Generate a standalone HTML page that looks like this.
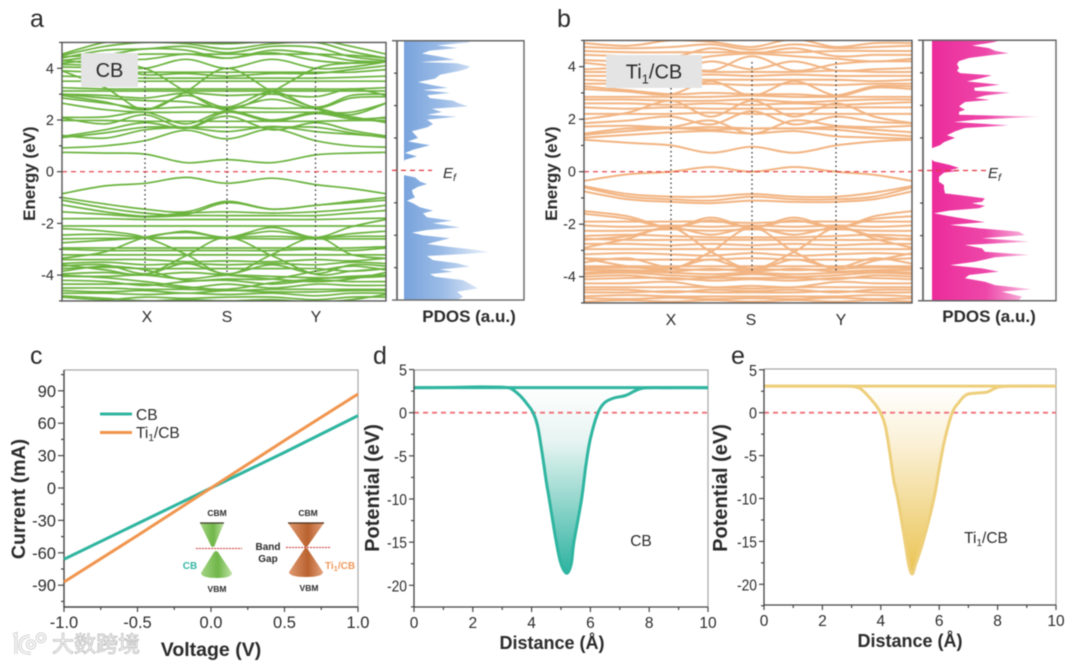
<!DOCTYPE html>
<html lang="en">
<head>
<meta charset="utf-8">
<title>Band structure, PDOS, I-V and potential charts</title>
<style>
html,body{margin:0;padding:0;background:#fff;width:1080px;height:662px;overflow:hidden}
svg{display:block;filter:blur(.45px)}
text{font-family:"Liberation Sans","Noto Sans CJK SC",sans-serif;fill:#2b2b2b}
</style>
</head>
<body>
<svg id="fig" xmlns="http://www.w3.org/2000/svg" width="1080" height="662" viewBox="0 0 1080 662">
<defs>
<linearGradient id="gradA" gradientUnits="userSpaceOnUse" x1="404" y1="0" x2="490" y2="0"><stop offset="0" stop-color="#78a3dc"/><stop offset=".45" stop-color="#9cbce7"/><stop offset="1" stop-color="#eef3fb"/></linearGradient>
<linearGradient id="gradB" gradientUnits="userSpaceOnUse" x1="932" y1="0" x2="1040" y2="0"><stop offset="0" stop-color="#ec2b9b"/><stop offset=".5" stop-color="#ee47a9"/><stop offset="1" stop-color="#fbdcee"/></linearGradient>
<linearGradient id="gradD" gradientUnits="userSpaceOnUse" x1="0" y1="387" x2="0" y2="572"><stop offset="0" stop-color="#ffffff"/><stop offset=".3" stop-color="#e6f4f1"/><stop offset="1" stop-color="#2fb3a1"/></linearGradient>
<linearGradient id="gradE" gradientUnits="userSpaceOnUse" x1="0" y1="386" x2="0" y2="572"><stop offset="0" stop-color="#ffffff"/><stop offset=".3" stop-color="#fbf1d8"/><stop offset="1" stop-color="#eac453"/></linearGradient>
<linearGradient id="coneG" x1="0" y1="0" x2="1" y2="0"><stop offset="0" stop-color="#a5d584"/><stop offset=".55" stop-color="#6fb648"/><stop offset="1" stop-color="#bfe3a4"/></linearGradient>
<linearGradient id="coneO" x1="0" y1="0" x2="1" y2="0"><stop offset="0" stop-color="#e09a70"/><stop offset=".55" stop-color="#b9622f"/><stop offset="1" stop-color="#e5a27c"/></linearGradient>
</defs>
<g id="panel-a"></g>
<g id="panel-b"></g>
<g id="panel-c"></g>
<g id="panel-d"></g>
<g id="panel-e"></g>
<g id="inset">
  <path d="M200 523 L224 523 L214.5 546 Q213 548 211 546 Z" fill="url(#coneG)"/>
  <path d="M200 523 H224" stroke="#3d3d2d" stroke-width="1.2"/>
  <path d="M214 552 Q216 550 218 552 L232 573 Q232 578 217 578 Q201 578 201 573 Z" fill="url(#coneG)"/>
  <path d="M288 523 L324 523 L307 547 L305 547 Z" fill="url(#coneO)"/>
  <path d="M288 523 H324" stroke="#4a2d1a" stroke-width="1.2"/>
  <path d="M305 548 L307 548 L323 572 Q323 577 306 577 Q289 577 289 572 Z" fill="url(#coneO)"/>
  <path d="M196 548.5 H242" stroke="#c9302c" stroke-width="1" stroke-dasharray="2 1"/>
  <path d="M286 547.5 H331" stroke="#c9302c" stroke-width="1" stroke-dasharray="2 1"/>
  <text x="217" y="516" font-size="8.5" font-weight="700" text-anchor="middle">CBM</text>
  <text x="217" y="592" font-size="8.5" font-weight="700" text-anchor="middle">VBM</text>
  <text x="190" y="569" font-size="10" font-weight="700" text-anchor="middle" style="fill:#35b6a4">CB</text>
  <text x="268" y="550" font-size="10" font-weight="700" text-anchor="middle">Band</text>
  <text x="268" y="562" font-size="10" font-weight="700" text-anchor="middle">Gap</text>
  <text x="308" y="516" font-size="8.5" font-weight="700" text-anchor="middle">CBM</text>
  <text x="309" y="591" font-size="8.5" font-weight="700" text-anchor="middle">VBM</text>
  <text x="340" y="569" font-size="10" font-weight="700" text-anchor="middle" style="fill:#ee9a5c">Ti<tspan font-size="7.5" dy="2">1</tspan><tspan dy="-2">/CB</tspan></text>
</g>
<g id="watermark">
  <path d="M13 635 L16 634 V654 M30 636 Q20 637 20 645 Q20 654 31 653 M31 641 a3.5 3.5 0 1 0 .1 0 M41 634 a3.8 3.8 0 1 0 .1 0" fill="none" stroke="#c9c9c9" stroke-width="3.2"/>
  <path d="M13 635 L16 634 V654 M30 636 Q20 637 20 645 Q20 654 31 653 M31 641 a3.5 3.5 0 1 0 .1 0 M41 634 a3.8 3.8 0 1 0 .1 0" fill="none" stroke="#ffffff" stroke-width="1.4"/>
  <text x="52" y="652" font-size="22" font-weight="400" style="fill:#ffffff;stroke:#bdbdbd;stroke-width:.8;font-family:'Liberation Sans','Noto Sans CJK SC',sans-serif">大数跨境</text>
</g>
</svg>
<script>
// ---- Chart data ----
const kNodesA = [62, 105, 145, 186, 227, 272, 315.5, 351, 386];
const kNodesB = [584, 628, 671, 711, 752, 794, 836, 874, 912];

const bandsCB = [
 [0.75,0.72,0.68,0.35,0.47,0.35,0.65,0.72,0.75],
 [0.92,1.0,1.2,1.6,1.27,1.65,1.2,1.0,0.95],
 [1.32,1.5,1.72,1.72,1.72,1.72,1.72,1.5,1.32],
 [1.36,1.62,1.9,1.68,2.15,1.62,1.9,1.6,1.38],
 [1.4,1.3,1.62,1.7,1.55,1.75,1.55,1.45,1.35],
 [1.98,1.98,1.95,1.95,1.95,1.95,1.95,1.98,1.98],
 [2.08,1.85,2.2,1.7,2.3,1.95,2.25,2.05,2.08],
 [2.1,2.12,2.3,1.85,2.35,2.0,2.3,2.12,1.9],
 [2.65,2.4,2.3,2.3,2.3,2.3,2.3,2.3,2.65],
 [2.85,2.65,2.45,2.5,2.5,2.45,2.45,2.2,2.65],
 [2.95,2.7,2.4,2.95,2.5,3.1,2.5,2.95,3.0],
 [3.0,2.85,2.75,2.7,2.45,2.8,2.45,2.85,2.9],
 [3.0,2.95,2.85,3.05,2.95,3.0,2.9,3.2,2.95],
 [3.12,3.12,3.12,3.12,3.12,3.12,3.12,3.12,3.12],
 [3.25,3.2,3.2,3.2,3.2,3.2,3.2,3.2,3.25],
 [3.9,3.25,2.4,3.1,4.0,3.1,2.45,2.05,2.1],
 [4.3,4.15,4.0,3.1,2.4,3.1,4.0,4.2,4.25],
 [3.5,3.5,3.5,3.5,3.5,3.5,3.5,3.5,3.5],
 [3.7,3.65,3.62,3.62,3.62,3.62,3.62,3.65,3.7],
 [3.9,3.85,3.85,3.85,3.85,3.85,3.85,3.85,3.95],
 [4.15,4.1,4.0,4.35,4.0,4.35,4.0,4.05,4.25],
 [4.05,4.0,3.75,3.8,3.7,3.8,3.8,3.95,4.1],
 [4.2,4.35,4.35,4.55,4.39,4.6,4.3,4.2,4.25],
 [4.3,4.5,4.75,4.7,4.39,4.7,4.55,4.3,4.25],
 [4.4,4.7,4.75,4.85,4.6,4.85,4.8,4.45,4.3],
 [4.45,4.5,4.55,4.55,4.55,4.55,4.55,4.5,4.4],
 [4.5,4.85,5.0,4.95,4.75,4.95,5.0,4.65,4.4],
 [4.55,5.0,5.1,5.0,4.95,5.05,5.1,4.85,4.55],
 [-0.85,-0.55,-0.45,-0.22,-0.45,-0.25,-0.5,-0.65,-0.85],
 [-1.0,-1.25,-1.45,-1.55,-1.15,-1.45,-1.3,-1.15,-1.0],
 [-1.1,-1.4,-1.6,-1.65,-1.2,-1.45,-1.3,-1.2,-1.1],
 [-1.28,-1.55,-1.72,-1.6,-1.55,-1.6,-1.55,-1.45,-1.3],
 [-1.55,-1.65,-1.75,-1.7,-1.7,-1.7,-1.7,-1.6,-1.5],
 [-1.82,-1.82,-1.85,-1.85,-1.85,-1.85,-1.85,-1.82,-1.8],
 [-2.1,-2.1,-2.1,-2.1,-2.1,-2.1,-2.1,-2.1,-2.1],
 [-2.75,-2.65,-2.54,-2.3,-2.54,-2.16,-2.54,-2.13,-1.85],
 [-3.35,-3.1,-2.54,-2.35,-2.54,-2.3,-2.54,-2.4,-2.3],
 [-2.2,-2.3,-2.54,-3.2,-3.97,-3.2,-2.54,-3.2,-3.35],
 [-3.6,-3.8,-3.97,-3.25,-2.54,-3.25,-3.97,-3.85,-3.75],
 [-2.45,-2.42,-2.54,-2.55,-2.54,-2.5,-2.54,-2.5,-2.5],
 [-2.6,-2.58,-2.58,-2.58,-2.58,-2.6,-2.6,-2.6,-2.6],
 [-2.95,-2.95,-2.95,-2.95,-2.95,-2.95,-2.95,-2.95,-2.9],
 [-3.0,-3.05,-3.05,-3.05,-3.05,-3.05,-3.0,-3.05,-2.95],
 [-3.22,-3.22,-3.22,-3.22,-3.22,-3.22,-3.22,-3.22,-3.22],
 [-3.4,-3.4,-3.4,-3.48,-3.45,-3.48,-3.4,-3.45,-3.35],
 [-3.55,-3.5,-3.6,-3.55,-3.6,-3.55,-3.6,-3.5,-3.55],
 [-3.65,-3.6,-3.95,-3.55,-3.95,-3.6,-3.95,-3.6,-3.65],
 [-3.85,-3.65,-3.8,-4.2,-4.15,-4.15,-3.85,-3.65,-3.8],
 [-3.75,-3.7,-3.75,-3.75,-3.75,-3.75,-3.75,-3.85,-3.75],
 [-3.95,-3.9,-4.0,-3.9,-4.0,-4.15,-4.25,-4.15,-3.9],
 [-4.05,-4.05,-4.0,-4.15,-4.0,-4.05,-4.1,-4.1,-4.05],
 [-4.0,-4.1,-4.25,-4.45,-4.55,-4.3,-4.15,-4.05,-4.0],
 [-4.2,-4.25,-4.4,-4.25,-4.2,-4.35,-4.2,-4.25,-4.25],
 [-4.35,-4.35,-4.35,-4.5,-4.35,-4.5,-4.35,-4.4,-4.4],
 [-4.5,-4.5,-4.55,-4.55,-4.6,-4.55,-4.55,-4.55,-4.55],
 [-4.6,-4.65,-4.6,-4.7,-4.6,-4.65,-4.65,-4.6,-4.6],
 [-4.7,-4.7,-4.75,-4.7,-4.75,-4.7,-4.8,-4.7,-4.7],
 [-4.85,-4.95,-4.85,-4.9,-4.85,-4.85,-4.95,-4.85,-4.85],
 [-4.8,-4.9,-5.0,-4.95,-5.0,-4.95,-5.05,-4.95,-4.75]
];

const bandsTi = [
 [1.22,1.1,1.0,0.72,0.95,0.72,1.0,1.15,1.22],
 [1.3,1.4,1.5,1.55,1.45,1.55,1.35,1.3,1.25],
 [1.4,1.55,1.65,1.6,1.65,1.65,1.6,1.45,1.35],
 [1.45,1.65,1.65,1.7,1.65,1.65,1.7,1.6,1.5],
 [1.72,1.75,1.7,1.95,1.45,1.95,1.75,1.7,1.75],
 [1.85,1.95,2.1,1.8,2.3,1.8,2.1,1.9,1.85],
 [2.0,2.25,2.7,2.1,2.7,2.1,2.6,2.1,1.85],
 [2.2,2.2,2.2,2.25,2.2,2.2,2.2,2.2,2.2],
 [2.45,2.4,2.45,2.4,2.4,2.4,2.45,2.45,2.45],
 [2.6,2.6,2.55,2.6,2.55,2.6,2.55,2.6,2.65],
 [2.75,2.75,2.7,2.7,2.75,2.65,2.7,2.75,2.75],
 [2.85,2.85,2.85,2.85,2.9,2.85,2.85,2.85,2.85],
 [3.15,3.05,2.95,3.45,2.9,3.45,2.9,3.2,3.15],
 [3.25,3.1,2.95,3.0,2.95,2.95,2.9,3.25,3.25],
 [3.35,3.35,3.3,3.35,3.3,3.35,3.3,3.35,3.35],
 [3.5,3.45,3.5,3.5,3.5,3.5,3.5,3.45,3.5],
 [3.65,3.65,3.65,3.7,3.65,3.7,3.65,3.65,3.65],
 [3.8,3.8,3.85,3.8,3.8,3.8,3.85,3.8,3.8],
 [3.9,3.95,3.85,4.2,3.9,4.2,3.85,3.9,3.95],
 [4.15,4.0,4.1,3.85,4.4,3.85,4.1,4.2,4.2],
 [4.25,4.2,4.15,4.4,4.5,4.4,4.3,4.2,4.3],
 [4.45,4.4,4.35,4.7,4.5,4.7,4.4,4.45,4.45],
 [4.6,4.55,4.55,4.55,4.55,4.55,4.6,4.6,4.6],
 [4.75,4.7,4.75,4.85,4.65,4.85,4.7,4.75,4.8],
 [4.9,4.8,5.0,4.95,4.75,5.05,4.75,4.9,4.9],
 [-0.35,-0.1,0.0,0.18,0.0,0.18,0.0,-0.12,-0.35],
 [-0.55,-0.85,-0.95,-0.95,-0.85,-0.95,-0.95,-0.8,-0.55],
 [-0.6,-0.95,-1.05,-1.1,-0.95,-1.05,-1.05,-0.95,-0.6],
 [-0.75,-1.05,-1.15,-1.2,-1.1,-1.15,-1.15,-1.05,-0.75],
 [-1.5,-1.7,-2.13,-1.75,-2.13,-1.75,-2.13,-1.7,-1.5],
 [-1.6,-1.8,-2.13,-1.85,-2.13,-1.85,-2.13,-1.8,-1.7],
 [-1.9,-1.9,-1.9,-1.9,-1.95,-1.9,-1.9,-1.9,-1.9],
 [-2.05,-2.1,-2.05,-2.1,-2.05,-2.1,-2.05,-2.1,-2.05],
 [-2.25,-2.25,-2.2,-2.25,-2.2,-2.25,-2.2,-2.25,-2.25],
 [-2.6,-2.45,-2.13,-2.4,-2.13,-2.4,-2.13,-2.45,-2.6],
 [-2.9,-2.55,-2.13,-3.05,-3.7,-3.05,-2.13,-2.55,-2.9],
 [-3.3,-3.6,-3.7,-3.05,-2.13,-3.05,-3.7,-3.4,-3.1],
 [-2.45,-2.4,-2.45,-2.5,-2.5,-2.5,-2.45,-2.4,-2.45],
 [-2.55,-2.6,-2.6,-2.6,-2.6,-2.6,-2.6,-2.6,-2.55],
 [-2.75,-2.75,-2.8,-2.75,-2.8,-2.75,-2.8,-2.75,-2.75],
 [-2.95,-2.95,-2.95,-2.95,-2.95,-2.95,-2.95,-2.95,-2.95],
 [-3.15,-3.1,-3.15,-3.2,-3.1,-3.2,-3.15,-3.1,-3.15],
 [-3.3,-3.35,-3.35,-3.35,-3.3,-3.35,-3.35,-3.35,-3.3],
 [-3.45,-3.3,-3.65,-3.35,-3.75,-3.35,-3.65,-3.3,-3.5],
 [-3.6,-3.6,-3.6,-3.6,-3.6,-3.6,-3.6,-3.6,-3.6],
 [-3.68,-3.65,-3.7,-3.75,-3.7,-3.75,-3.7,-3.65,-3.68],
 [-3.75,-3.75,-3.8,-3.7,-3.8,-3.7,-3.8,-3.75,-3.75],
 [-3.85,-3.8,-3.85,-3.9,-3.85,-3.9,-3.85,-3.8,-3.85],
 [-3.9,-3.85,-3.95,-4.0,-3.9,-4.0,-3.95,-3.85,-3.9],
 [-4.0,-3.95,-4.1,-4.05,-4.05,-4.05,-4.1,-3.95,-4.0],
 [-4.1,-4.05,-4.05,-4.15,-4.1,-4.15,-4.05,-4.05,-4.1],
 [-4.25,-4.25,-4.2,-4.4,-4.35,-4.4,-4.2,-4.25,-4.25],
 [-4.4,-4.4,-4.4,-4.4,-4.45,-4.4,-4.4,-4.4,-4.4],
 [-4.5,-4.5,-4.6,-4.5,-4.55,-4.5,-4.6,-4.5,-4.5],
 [-4.6,-4.6,-4.55,-4.6,-4.6,-4.6,-4.55,-4.6,-4.6],
 [-4.75,-4.7,-4.75,-4.75,-4.75,-4.75,-4.75,-4.7,-4.75],
 [-4.82,-4.85,-4.8,-4.85,-4.82,-4.85,-4.8,-4.85,-4.82],
 [-4.95,-4.9,-4.95,-4.9,-4.95,-4.9,-4.95,-4.9,-4.95]
];

const energyTicks = [4,2,0,-2,-4];
const energyTickLabels = ["4","2","0","-2","-4"];
const energyMinorTicks = [5,3,1,-1,-3,-5];
const pdosTicks = [3.75,2.5,1.25,0,-1.25,-2.5,-3.75];
const pathLabels = ["X","S","Y"];

const pdosEnergyA = [5,4.93,4.82,4.72,4.62,4.51,4.39,4.27,4.18,4.13,4.01,3.92,3.82,3.69,3.54,3.41,3.28,3.18,3.1,2.99,2.9,2.79,2.69,2.6,2.47,2.38,2.25,2.15,2.07,1.96,1.79,1.66,1.51,1.25,1.12,.97,.8,.67,.54,.41,.35,-.18,-.27,-.43,-.53,-.63,-.76,-.91,-1.04,-1.17,-1.27,-1.42,-1.55,-1.66,-1.81,-1.94,-2.04,-2.2,-2.3,-2.4,-2.5,-2.62,-2.84,-2.94,-3.07,-3.15,-3.22,-3.3,-3.46,-3.58,-3.71,-3.82,-3.91,-4.0,-4.1,-4.23,-4.42,-4.55,-4.68,-4.87,-5.0];
const pdosValueA = [69,64,33,54,26,18,36,51,16,53,66,63,54,36,31,14,29,44,19,46,23,26,49,54,64,28,38,23,53,23,29,23,8,14,4,26,9,1,13,1,0,0,11,16,23,14,8,9,11,3,9,16,29,19,23,48,29,56,23,8,19,46,23,43,73,86,63,23,29,53,66,36,49,26,31,59,68,74,53,59,53];
const pdosEnergyB = [4.98,4.91,4.8,4.7,4.6,4.5,4.42,4.32,4.2,4.09,3.93,3.83,3.74,3.65,3.55,3.42,3.29,3.17,3.06,2.99,2.88,2.78,2.71,2.63,2.46,2.33,2.25,2.14,2.07,1.95,1.86,1.73,1.63,1.5,1.35,1.25,1.09,.97,.86,.74,.42,.35,.22,.1,.01,-.02,-.08,-.24,-.43,-.56,-.69,-.88,-.94,-1.07,-1.2,-1.26,-1.36,-1.45,-1.54,-1.64,-1.75,-1.9,-1.98,-2.09,-2.22,-2.35,-2.48,-2.6,-2.73,-2.86,-2.99,-3.12,-3.24,-3.33,-3.5,-3.63,-3.76,-3.88,-4.01,-4.14,-4.27,-4.4,-4.56,-4.65,-4.78,-4.84,-4.97];
const pdosValueB = [67,60,40,57,63,77,57,37,27,25,27,25,28,60,50,35,68,42,43,78,53,43,58,33,27,33,27,27,108,43,22,77,33,23,15,23,12,8,0,0,0,2,17,27,18,27,12,7,7,12,12,13,27,53,50,40,53,47,17,2,17,40,53,18,47,87,93,50,98,33,50,53,98,63,43,18,50,67,37,33,53,63,100,70,83,90,87];

const voltage = [-1,-0.5,0,0.5,1];
const currentCB = [-66,-33,0,33,67];
const currentTi = [-87,-44,0,44,87];
const voltageTicks = [-1,-0.5,0,0.5,1];
const voltageTickLabels = ["-1.0","-0.5","0.0","0.5","1.0"];
const voltageMinor = [-0.75,-0.25,0.25,0.75];
const currentTicks = [90,60,30,0,-30,-60,-90];
const currentMinor = [105,75,45,15,-15,-45,-75,-105];

const distanceD = [0,1,2,2.6,3.05,3.3,3.6,3.85,4.05,4.2,4.35,4.5,4.6,4.84,5.0,5.2,5.35,5.44,5.7,5.85,6.0,6.26,6.5,6.8,7.2,7.5,7.8,8.5,10];
const potentialD = [2.9,2.92,2.98,2.98,2.95,2.8,2.0,1.0,0,-1.5,-4.5,-8,-10,-15,-17.5,-18.6,-17.5,-15,-10,-6,-3,0,1.2,1.7,2.0,2.5,2.85,2.9,2.9];
const distanceE = [0,1,2,2.6,3.05,3.3,3.55,3.8,3.99,4.15,4.3,4.45,4.58,4.83,4.95,5.07,5.2,5.45,5.82,6.0,6.2,6.45,6.65,6.93,7.3,7.64,8.03,8.6,10];
const potentialE = [3.1,3.1,3.1,3.1,3.05,2.8,2.0,1.0,0,-1.5,-4.5,-8,-10,-15,-17.6,-18.8,-17.6,-15,-10,-6.5,-3,0,1.1,2.1,2.3,2.4,3.0,3.1,3.1];
const distanceTicks = [0,2,4,6,8,10];
const distanceMinor = [1,3,5,7,9];
const potentialTicks = [5,0,-5,-10,-15,-20];
const potentialMinor = [2.5,-2.5,-7.5,-12.5,-17.5,-22.5];

// ---- Helpers ----
const NS = 'http://www.w3.org/2000/svg';
function mk(parent, tag, attrs, name, txt) {
  const el = document.createElementNS(NS, tag);
  for (const k in attrs) el.setAttribute(k, attrs[k]);
  
  
  if (txt !== undefined) el.textContent = txt;
  parent.appendChild(el);
  return el;
}
function curve(pts) {
  let d = 'M' + pts[0][0].toFixed(1) + ' ' + pts[0][1].toFixed(1);
  for (let i = 0; i < pts.length - 1; i++) {
    const p0 = pts[Math.max(0, i - 1)], p1 = pts[i], p2 = pts[i + 1], p3 = pts[Math.min(pts.length - 1, i + 2)];
    const c1x = p1[0] + (p2[0] - p0[0]) / 6, c1y = p1[1] + (p2[1] - p0[1]) / 6;
    const c2x = p2[0] - (p3[0] - p1[0]) / 6, c2y = p2[1] - (p3[1] - p1[1]) / 6;
    d += 'C' + c1x.toFixed(1) + ' ' + c1y.toFixed(1) + ' ' + c2x.toFixed(1) + ' ' + c2y.toFixed(1) + ' ' + p2[0].toFixed(1) + ' ' + p2[1].toFixed(1);
  }
  return d;
}
function vTick(g, x, y, len, name) {
  mk(g, 'line', {x1: x, x2: x, y1: y, y2: y + len, stroke: '#444', 'stroke-width': 1.2}, name);
}
function hTick(g, x, y, len, name) {
  mk(g, 'line', {x1: x - len, x2: x, y1: y, y2: y, stroke: '#444', 'stroke-width': 1.2}, name);
}

// ---- Band structure panels ----
function bandPanel(cfg) {
  const g = document.getElementById(cfg.id);
  const yE = e => cfg.y0 - e * cfg.ppe;
  const clip = 'clip-' + cfg.id;
  const cp = mk(document.querySelector('#fig defs'), 'clipPath', {id: clip}, cfg.id + '-clip');
  mk(cp, 'rect', {x: cfg.x0, y: yE(5), width: cfg.x1 - cfg.x0, height: yE(-5) - yE(5)}, cfg.id + '-clip-rect');
  const bg = mk(g, 'g', {'clip-path': 'url(#' + clip + ')'}, 'band-lines');
  cfg.bands.forEach(b => {
    const pts = b.map((e, i) => [cfg.kx[i], yE(e)]);
    mk(bg, 'path', {d: curve(pts), fill: 'none', stroke: cfg.color, 'stroke-width': cfg.lw}, 'band-line');
  });
  cfg.sym.forEach((s, i) => {
    mk(g, 'line', {x1: s.x, x2: s.x, y1: s.top, y2: s.bot, stroke: '#333', 'stroke-width': 1.3, 'stroke-dasharray': '1.5 3'}, 'symmetry-line-' + pathLabels[i].toLowerCase());
    mk(g, 'text', {x: s.lx, y: cfg.labY, 'font-size': 16, 'text-anchor': 'middle'}, 'k-point-label-' + pathLabels[i].toLowerCase(), pathLabels[i]);
  });
  mk(g, 'line', {x1: cfg.x0, x2: cfg.x1, y1: yE(0), y2: yE(0), stroke: '#e2363f', 'stroke-width': 1.2, 'stroke-dasharray': '5 4'}, 'fermi-level-line');
  mk(g, 'rect', {x: cfg.x0, y: yE(5), width: cfg.x1 - cfg.x0, height: yE(-5) - yE(5), fill: 'none', stroke: '#555', 'stroke-width': 1.4}, 'plot-frame');
  energyTicks.forEach((e, i) => {
    hTick(g, cfg.x0, yE(e), 5, 'energy-tick');
    mk(g, 'text', {x: cfg.x0 - 8, y: yE(e) + 5, 'font-size': 14.5, 'text-anchor': 'end'}, 'energy-tick-label', energyTickLabels[i]);
  });
  energyMinorTicks.forEach(e => hTick(g, cfg.x0, yE(e), 3, 'energy-minor-tick'));
  mk(g, 'text', {transform: 'translate(' + cfg.ylX + ' ' + (yE(0) + 2) + ') rotate(-90)', 'font-size': 17, 'font-weight': 700, 'text-anchor': 'middle'}, 'y-axis-title', 'Energy (eV)');
  mk(g, 'text', {x: cfg.letter[0], y: cfg.letter[1], 'font-size': 25}, 'panel-letter', cfg.letterText);
  mk(g, 'rect', {x: cfg.tag[0], y: cfg.tag[1], width: cfg.tag[2], height: cfg.tag[3], fill: '#e4e4e4'}, 'sample-label-box');
  const t = mk(g, 'text', {x: cfg.tag[0] + cfg.tag[2] / 2, y: cfg.tag[1] + cfg.tag[3] / 2 + 7, 'font-size': 20, 'text-anchor': 'middle'}, 'sample-label');
  if (cfg.ti) {
    t.appendChild(document.createTextNode('Ti'));
    const s = mk(t, 'tspan', {'font-size': 13, dy: 5}, 'sample-label-subscript', '1');
    const r = mk(t, 'tspan', {dy: -5}, 'sample-label-suffix', '/CB');
  } else t.textContent = 'CB';

  // PDOS
  const yP = e => cfg.pY0 - e * cfg.pPpe;
  const fx = v => cfg.pFill + v;
  const pts = cfg.pE.map((e, i) => fx(cfg.pV[i]).toFixed(1) + ',' + yP(e).toFixed(1));
  const poly = cfg.pFill + ',' + yP(cfg.pE[0]).toFixed(1) + ' ' + pts.join(' ') + ' ' + cfg.pFill + ',' + yP(cfg.pE[cfg.pE.length - 1]).toFixed(1);
  mk(g, 'polygon', {points: poly, fill: cfg.pGrad}, 'pdos-area');
  mk(g, 'line', {x1: cfg.pAxis, x2: cfg.pAxis, y1: yP(5), y2: yP(-5), stroke: '#666', 'stroke-width': 1.8}, 'pdos-left-axis');
  mk(g, 'path', {d: 'M' + cfg.pL + ' ' + yP(5) + 'H' + cfg.pR + 'V' + yP(-5) + 'H' + cfg.pL, fill: 'none', stroke: '#666', 'stroke-width': 1.4}, 'pdos-frame');
  pdosTicks.forEach(e => hTick(g, cfg.pAxis, yP(e), 3, 'pdos-tick'));
  mk(g, 'line', {x1: cfg.pL, x2: cfg.pDashEnd, y1: yP(0), y2: yP(0), stroke: '#e2363f', 'stroke-width': 1.2, 'stroke-dasharray': '5 4'}, 'pdos-fermi-line');
  const ef = mk(g, 'text', {x: cfg.efX, y: 178, 'font-size': 15, 'font-style': 'italic'}, 'fermi-level-label');
  ef.appendChild(document.createTextNode('E'));
  mk(ef, 'tspan', {'font-size': 10.5, dy: 3}, 'fermi-level-subscript', 'f');
  mk(g, 'text', {x: cfg.pdosLabX, y: 322, 'font-size': 17, 'font-weight': 700, 'text-anchor': 'middle'}, 'pdos-axis-title', 'PDOS (a.u.)');
}

bandPanel({id:'panel-a', bands:bandsCB, kx:kNodesA, x0:62, x1:386, y0:171.7, ppe:25.85, color:'#6bb33e', lw:1.7, ylX:35,
  sym:[{x:145,lx:147,top:68,bot:275},{x:227,lx:227,top:68,bot:275},{x:315.5,lx:316,top:68,bot:275}], labY:322,
  letter:[30,27], letterText:'a', tag:[81,53,57,34], ti:false,
  pE:pdosEnergyA, pV:pdosValueA, pFill:404, pY0:170.4, pPpe:25.93, pGrad:'url(#gradA)', pAxis:397, pL:392, pR:524, pDashEnd:432, efX:443, pdosLabX:469});
bandPanel({id:'panel-b', bands:bandsTi, kx:kNodesB, x0:584, x1:912, y0:171.7, ppe:26.25, color:'#f2b482', lw:2, ylX:557,
  sym:[{x:671,lx:671,top:88,bot:273},{x:752,lx:751,top:62,bot:271},{x:836,lx:841,top:62,bot:272}], labY:325,
  letter:[557,27], letterText:'b', tag:[606,55,96,33], ti:true,
  pE:pdosEnergyB, pV:pdosValueB, pFill:932, pY0:170.5, pPpe:26.05, pGrad:'url(#gradB)', pAxis:923, pL:918, pR:1056, pDashEnd:986, efX:988, pdosLabX:989});

// ---- I-V panel ----
(function () {
  const g = document.getElementById('panel-c');
  const x = v => 211 + v * 147;
  const y = i => 488 - i * 1.08;
  mk(g, 'path', {d: 'M64 370H358V607', fill: 'none', stroke: '#a8a8a8', 'stroke-width': 1.2}, 'plot-top-right-frame');
  mk(g, 'path', {d: 'M64 370V607H358', fill: 'none', stroke: '#444', 'stroke-width': 1.4}, 'plot-axes');
  currentTicks.forEach(c => {
    hTick(g, 64, y(c), 6, 'current-tick');
    mk(g, 'text', {x: 56, y: y(c) + 6, 'font-size': 16.5, 'text-anchor': 'end'}, 'current-tick-label', String(c));
  });
  currentMinor.forEach(c => hTick(g, 64, y(c), 3, 'current-minor-tick'));
  voltageTicks.forEach((v, i) => {
    vTick(g, x(v), 607, 5, 'voltage-tick');
    mk(g, 'text', {x: x(v), y: 628, 'font-size': 16.5, 'text-anchor': 'middle'}, 'voltage-tick-label', voltageTickLabels[i]);
  });
  voltageMinor.forEach(v => vTick(g, x(v), 607, 3, 'voltage-minor-tick'));
  mk(g, 'polyline', {points: voltage.map((v, i) => x(v) + ',' + y(currentCB[i])).join(' '), fill: 'none', stroke: '#2fb5a0', 'stroke-width': 3}, 'series-cb');
  mk(g, 'polyline', {points: voltage.map((v, i) => x(v) + ',' + y(currentTi[i])).join(' '), fill: 'none', stroke: '#f0954e', 'stroke-width': 3}, 'series-ti1-cb');
  mk(g, 'line', {x1: 100, x2: 132, y1: 414, y2: 414, stroke: '#2fb5a0', 'stroke-width': 3}, 'legend-swatch-cb');
  mk(g, 'text', {x: 136, y: 420, 'font-size': 15.5}, 'legend-label-cb', 'CB');
  mk(g, 'line', {x1: 100, x2: 132, y1: 432.5, y2: 432.5, stroke: '#f0954e', 'stroke-width': 3}, 'legend-swatch-ti1-cb');
  const lt = mk(g, 'text', {x: 136, y: 438, 'font-size': 15.5}, 'legend-label-ti1-cb');
  lt.appendChild(document.createTextNode('Ti'));
  mk(lt, 'tspan', {'font-size': 10, dy: 3}, 'legend-subscript', '1');
  mk(lt, 'tspan', {dy: -3}, 'legend-suffix', '/CB');
  mk(g, 'text', {transform: 'translate(25 499) rotate(-90)', 'font-size': 19.5, 'font-weight': 700, 'text-anchor': 'middle'}, 'y-axis-title', 'Current (mA)');
  mk(g, 'text', {x: 211, y: 656, 'font-size': 19.5, 'font-weight': 700, 'text-anchor': 'middle'}, 'x-axis-title', 'Voltage (V)');
  mk(g, 'text', {x: 30, y: 364, 'font-size': 25}, 'panel-letter', 'c');
})();

// ---- Potential panels ----
function potentialPanel(cfg) {
  const g = document.getElementById(cfg.id);
  const x = d => cfg.x0 + d * (cfg.x1 - cfg.x0) / 10;
  const y = p => cfg.yZero - p * cfg.ppe;
  const pts = cfg.dist.map((d, i) => [x(d), y(cfg.pot[i])]);
  mk(g, 'path', {d: curve(pts) + 'Z', fill: cfg.grad}, 'well-fill');
  mk(g, 'path', {d: 'M' + cfg.x0 + ' ' + cfg.top + 'H' + cfg.x1 + 'V' + cfg.bot, fill: 'none', stroke: '#a8a8a8', 'stroke-width': 1.2}, 'plot-top-right-frame');
  mk(g, 'line', {x1: cfg.x0, x2: cfg.x1, y1: y(0), y2: y(0), stroke: '#ef6f7a', 'stroke-width': 1.8, 'stroke-dasharray': '5 4'}, 'fermi-level-line');
  mk(g, 'line', {x1: cfg.x0, x2: cfg.x1, y1: y(cfg.flat), y2: y(cfg.flat), stroke: cfg.color, 'stroke-width': 3}, 'vacuum-level-line');
  mk(g, 'path', {d: curve(pts), fill: 'none', stroke: cfg.color, 'stroke-width': 3}, 'potential-curve');
  mk(g, 'path', {d: 'M' + cfg.x0 + ' ' + cfg.top + 'V' + cfg.bot + 'H' + cfg.x1, fill: 'none', stroke: '#444', 'stroke-width': 1.3}, 'plot-axes');
  potentialTicks.forEach(p => {
    hTick(g, cfg.x0, y(p), 5, 'potential-tick');
    mk(g, 'text', {x: cfg.x0 - 7, y: y(p) + 6, 'font-size': 15.5, 'text-anchor': 'end', textLength: p <= -10 ? 20 : (p < 0 ? 13 : 8), lengthAdjust: 'spacingAndGlyphs'}, 'potential-tick-label', String(p));
  });
  potentialMinor.forEach(p => hTick(g, cfg.x0, y(p), 3, 'potential-minor-tick'));
  distanceTicks.forEach(d => {
    vTick(g, x(d), cfg.bot, 5, 'distance-tick');
    mk(g, 'text', {x: x(d), y: cfg.bot + 21, 'font-size': 15.5, 'text-anchor': 'middle'}, 'distance-tick-label', String(d));
  });
  distanceMinor.forEach(d => vTick(g, x(d), cfg.bot, 3, 'distance-minor-tick'));
  mk(g, 'text', {transform: 'translate(' + cfg.ylX + ' 488) rotate(-90)', 'font-size': 20, 'font-weight': 700, 'text-anchor': 'middle'}, 'y-axis-title', 'Potential (eV)');
  mk(g, 'text', {x: cfg.xlX, y: cfg.xlY, 'font-size': 18, 'font-weight': 700, 'text-anchor': 'middle'}, 'x-axis-title', 'Distance (Å)');
  mk(g, 'text', {x: cfg.letter[0], y: cfg.letter[1], 'font-size': 25, 'text-anchor': 'middle'}, 'panel-letter', cfg.letterText);
  const t = mk(g, 'text', {x: cfg.tagX, y: cfg.tagY, 'font-size': 15.5, 'text-anchor': 'middle'}, 'sample-label');
  if (cfg.ti) {
    t.appendChild(document.createTextNode('Ti'));
    mk(t, 'tspan', {'font-size': 10, dy: 3}, 'sample-label-subscript', '1');
    mk(t, 'tspan', {dy: -3}, 'sample-label-suffix', '/CB');
  } else t.textContent = 'CB';
}
potentialPanel({id:'panel-d', x0:414, x1:708, top:370, bot:607, yZero:412.7, ppe:8.63, dist:distanceD, pot:potentialD, flat:2.9, color:'#2fb5a0', grad:'url(#gradD)',
  ylX:379, xlX:552, xlY:649, letter:[380,364], letterText:'d', tagX:641, tagY:546, ti:false});
potentialPanel({id:'panel-e', x0:764, x1:1056, top:369, bot:605, yZero:412.7, ppe:8.58, dist:distanceE, pot:potentialE, flat:3.1, color:'#edcf7c', grad:'url(#gradE)',
  ylX:727, xlX:910, xlY:647, letter:[738,364], letterText:'e', tagX:986, tagY:543, ti:true});
</script>
</body>
</html>
